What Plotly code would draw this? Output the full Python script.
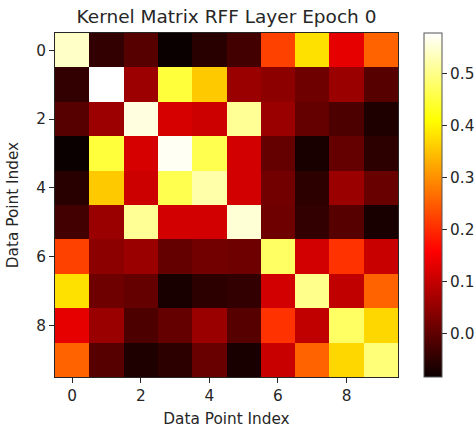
import plotly.graph_objects as go

indices = list(range(10))
tick_vals = [0, 2, 4, 6, 8]
cbar_ticks = [0.0, 0.1, 0.2, 0.3, 0.4, 0.5]

row0 = [0.542, -0.045, -0.010, -0.084, -0.055, -0.030, 0.222, 0.380, 0.133, 0.256]
row1 = [-0.045, 0.578, 0.060, 0.449, 0.356, 0.059, 0.045, 0.014, 0.059, -0.010]
row2 = [-0.010, 0.060, 0.557, 0.118, 0.108, 0.508, 0.059, 0.004, -0.020, -0.065]
row3 = [-0.084, 0.449, 0.118, 0.570, 0.462, 0.113, 0.004, -0.070, 0.004, -0.050]
row4 = [-0.055, 0.356, 0.108, 0.462, 0.522, 0.113, 0.018, -0.050, 0.059, 0.009]
row5 = [-0.030, 0.059, 0.508, 0.113, 0.113, 0.550, 0.014, -0.045, -0.010, -0.070]
row6 = [0.222, 0.045, 0.059, 0.004, 0.018, 0.014, 0.476, 0.113, 0.207, 0.103]
row7 = [0.380, 0.014, 0.004, -0.070, -0.050, -0.045, 0.113, 0.502, 0.095, 0.256]
row8 = [0.133, 0.059, -0.020, 0.004, 0.059, -0.010, 0.207, 0.095, 0.476, 0.370]
row9 = [0.256, -0.010, -0.065, -0.050, 0.009, -0.070, 0.103, 0.256, 0.370, 0.489]
matrix = [row0, row1, row2, row3, row4, row5, row6, row7, row8, row9]

zmin = min(min(r) for r in matrix)
zmax = max(max(r) for r in matrix)

hot = [
    [0.0, "rgb(11,0,0)"],
    [0.365079, "rgb(255,0,0)"],
    [0.746032, "rgb(255,255,0)"],
    [1.0, "rgb(255,255,255)"],
]

FONT = "DejaVu Sans"
TXT = "#262626"
FS = 15.3

W, H = 476, 428
L, T, PW, PH = 55, 33, 343, 344

fig = go.Figure(go.Heatmap(
    z=matrix, x=indices, y=indices,
    colorscale=hot, zmin=zmin, zmax=zmax,
    colorbar=dict(
        thickness=18, len=1, lenmode="fraction", x=(424 - L) / PW, xanchor="left",
        y=0.5, yanchor="middle", xpad=0, ypad=0,
        outlinecolor="#555", outlinewidth=1,
        tickvals=cbar_ticks, tickformat=".1f", ticks="outside", ticklen=5,
        tickcolor=TXT, tickfont=dict(family=FONT, size=FS, color=TXT),
    ),
))

fig.update_layout(
    width=W, height=H,
    margin=dict(l=L, r=W - L - PW, t=T, b=H - T - PH, autoexpand=False),
    paper_bgcolor="white", plot_bgcolor="white",
    title=dict(text="Kernel Matrix RFF Layer Epoch 0", x=(L + PW / 2) / W, xanchor="center",
               y=1 - 17 / H, yanchor="middle",
               font=dict(family=FONT, size=18.5, color=TXT)),
    font=dict(family=FONT, size=FS, color=TXT),
)
fig.update_xaxes(
    range=[-0.5, 9.5], tickvals=tick_vals, ticks="outside", ticklen=5, tickcolor=TXT,
    showline=True, mirror=True, linecolor=TXT, linewidth=1, showgrid=False, zeroline=False,
    title=dict(text="Data Point Index", font=dict(size=FS), standoff=12),
    tickfont=dict(size=FS), automargin=False,
)
fig.update_yaxes(
    range=[9.5, -0.5], tickvals=tick_vals, ticks="outside", ticklen=5, tickcolor=TXT,
    showline=True, mirror=True, linecolor=TXT, linewidth=1, showgrid=False, zeroline=False,
    title=dict(text="Data Point Index", font=dict(size=FS), standoff=13),
    tickfont=dict(size=FS), automargin=False,
)

fig.write_html("out.html", config={"displayModeBar": False},
               post_script="document.body.style.margin='0';")
